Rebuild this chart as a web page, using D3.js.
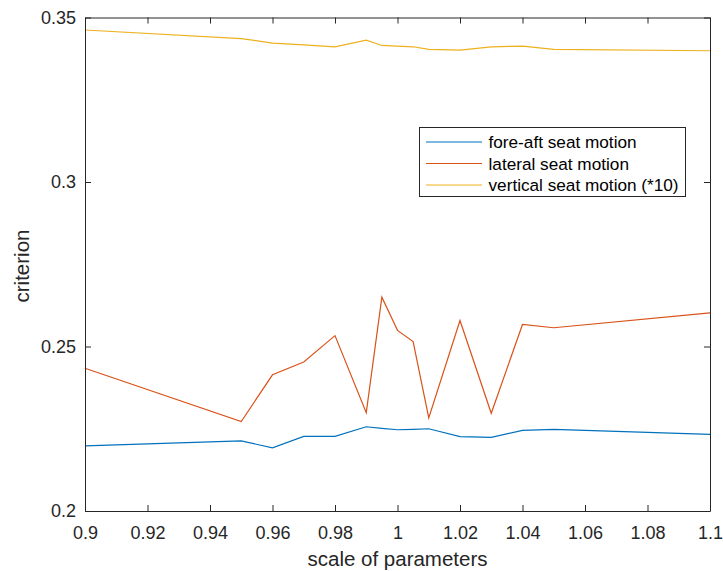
<!DOCTYPE html>
<html><head><meta charset="utf-8">
<script src="https://cdn.jsdelivr.net/npm/d3@7"></script>
<style>body{margin:0;background:#fff}svg{display:block}text{font-family:"Liberation Sans",Arial,sans-serif}</style>
</head><body><svg id="c" width="723" height="571"></svg>
<script>
const scales = [0.9,0.95,0.96,0.97,0.98,0.99,0.995,1.0,1.005,1.01,1.02,1.03,1.04,1.05,1.1];
const foreAft = [0.2198,0.2213,0.2192,0.2227,0.2227,0.2256,0.2251,0.2247,0.2248,0.2250,0.2226,0.2224,0.2245,0.2248,0.2233];
const lateral = [0.2434,0.2272,0.2414,0.2453,0.2533,0.2299,0.2650,0.2549,0.2515,0.2283,0.2579,0.2297,0.2567,0.2557,0.2602];
const vertical = [0.3462,0.3436,0.3422,0.3417,0.3411,0.3431,0.3415,0.3413,0.3411,0.3403,0.3401,0.3411,0.3413,0.3403,0.3399];
const seriesNames = ["fore-aft seat motion","lateral seat motion","vertical seat motion (*10)"];
const seriesColors = ["#0072BD","#D95319","#EDB120"];
const xTicks = [0.9,0.92,0.94,0.96,0.98,1,1.02,1.04,1.06,1.08,1.1];
const yTicks = [0.2,0.25,0.3,0.35];

const svg = d3.select("#c");
const L=85, R=710, T=17.5, B=511;
const x = d3.scaleLinear().domain([0.9,1.1]).range([L,R]);
const y = d3.scaleLinear().domain([0.2,0.35]).range([B,T]);
const axC="#262626";
const fmt = d => String(+d.toFixed(2));

const g = svg.append("g");
const data=[foreAft,lateral,vertical];
const line = d3.line().x((d,i)=>x(scales[i])).y(d=>y(d));
data.forEach((s,k)=>{
  g.append("path").datum(s).attr("d",line).attr("fill","none")
   .attr("stroke",seriesColors[k]).attr("stroke-width",1.2);
});
const ax = (a)=>a.attr("color",axC).call(s=>s.selectAll("text").attr("font-size",18).attr("fill",axC));
ax(svg.append("g").attr("transform",`translate(0,${B})`)
  .call(d3.axisBottom(x).tickValues(xTicks).tickFormat(fmt).tickSizeInner(-6).tickSizeOuter(0).tickPadding(15)));
ax(svg.append("g").attr("transform",`translate(0,${T})`)
  .call(d3.axisTop(x).tickValues(xTicks).tickFormat("").tickSizeInner(-6).tickSizeOuter(0)));
ax(svg.append("g").attr("transform",`translate(${L},0)`)
  .call(d3.axisLeft(y).tickValues(yTicks).tickFormat(fmt).tickSizeInner(-6).tickSizeOuter(0).tickPadding(9)));
ax(svg.append("g").attr("transform",`translate(${R},0)`)
  .call(d3.axisRight(y).tickValues(yTicks).tickFormat("").tickSizeInner(-6).tickSizeOuter(0)));
svg.selectAll(".domain").attr("stroke-width",1);

svg.append("text").attr("x",397.5).attr("y",566).attr("text-anchor","middle")
  .attr("font-size",20.5).attr("fill",axC).text("scale of parameters");
svg.append("text").attr("transform",`translate(28.5,266) rotate(-90)`).attr("text-anchor","middle")
  .attr("font-size",20.5).attr("fill",axC).text("criterion");

const lg = svg.append("g");
lg.append("rect").attr("x",419.5).attr("y",127.5).attr("width",266).attr("height",69)
  .attr("fill","#fff").attr("stroke",axC).attr("stroke-width",1);
seriesNames.forEach((n,k)=>{
  const yy = 142 + k*21.5;
  lg.append("line").attr("x1",426).attr("x2",482).attr("y1",yy).attr("y2",yy)
    .attr("stroke",seriesColors[k]).attr("stroke-width",1.2);
  lg.append("text").attr("x",488.5).attr("y",yy+6).attr("font-size",17.2).attr("fill","#000").text(n);
});
</script></body></html>
